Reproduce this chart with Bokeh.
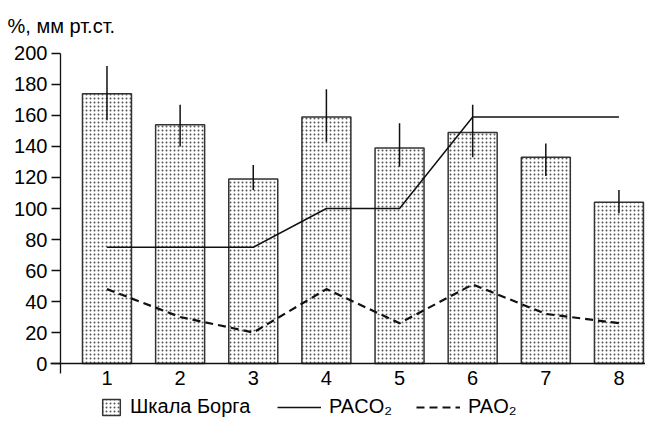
from bokeh.plotting import figure
from bokeh.models import (ColumnDataSource, FixedTicker, Label, Legend, LegendItem,
                          Range1d)
from bokeh.embed import file_html
from bokeh.resources import INLINE

# ---- data ----
categories = [1, 2, 3, 4, 5, 6, 7, 8]
borg = [174, 154, 119, 159, 139, 149, 133, 104]
borg_low = [157, 140, 112, 143, 127, 133, 121, 97]
borg_high = [192, 167, 128, 177, 155, 167, 142, 112]
paco2 = [75, 75, 75, 100, 100, 159, 159, 159]
pao2 = [48, 30, 20, 48, 26, 51, 32, 26]
y_ticks = [0, 20, 40, 60, 80, 100, 120, 140, 160, 180, 200]

FONT = "Liberation Sans"
FS = "20px"

# frame covers whole canvas; axes are placed at fixed locations inside it
p = figure(width=645, height=418, output_backend="svg", toolbar_location=None,
           x_range=Range1d(-0.456, 8.363), y_range=Range1d(-35.48, 234.19),
           min_border_left=0, min_border_right=0, min_border_top=0,
           min_border_bottom=0)
p.outline_line_color = None
p.xgrid.visible = False
p.ygrid.visible = False
p.background_fill_color = "white"
p.border_fill_color = "white"

src = ColumnDataSource(dict(x=categories, top=borg, low=borg_low, high=borg_high,
                            paco2=paco2, pao2=pao2))

bars = p.vbar(x="x", top="top", bottom=0, width=0.67, source=src,
              fill_color="white", line_color="#333333", line_width=1.5,
              hatch_pattern="dot", hatch_scale=4, hatch_color="#555555",
              hatch_weight=1.2)
p.segment(x0="x", y0="low", x1="x", y1="high", source=src,
          line_color="#111111", line_width=1.5)
l1 = p.line(x="x", y="paco2", source=src, line_color="#111111", line_width=1.5)
l2 = p.line(x="x", y="pao2", source=src, line_color="#111111", line_width=2.2,
            line_dash="8 5")

# axes
yax = p.yaxis[0]
yax.fixed_location = 0.364
yax.bounds = (-6.45, 200)
yax.ticker = FixedTicker(ticks=y_ticks)
yax.minor_tick_line_color = None
yax.major_tick_out = 9
yax.major_tick_in = 0
yax.major_label_standoff = 4
yax.axis_line_width = 1.3
yax.major_tick_line_width = 1.3
yax.axis_line_color = "#111111"
yax.major_tick_line_color = "#111111"
yax.major_label_text_font = FONT
yax.major_label_text_font_size = FS
yax.major_label_text_color = "black"

xax = p.xaxis[0]
xax.fixed_location = 0
xax.bounds = (0.2275, 8.363)
xax.ticker = FixedTicker(ticks=categories)
xax.minor_tick_line_color = None
xax.major_tick_out = 0
xax.major_tick_in = 0
xax.major_label_standoff = 7
xax.axis_line_width = 1.3
xax.axis_line_color = "#111111"
xax.major_label_text_font = FONT
xax.major_label_text_font_size = FS
xax.major_label_text_color = "black"

# unit label at top-left
p.add_layout(Label(x=7, y=393, x_units="screen", y_units="screen",
                   text="%, мм рт.ст.", text_font=FONT, text_font_size=FS,
                   text_baseline="middle", text_color="black"))

# legends
def style(lg):
    lg.orientation = "horizontal"
    lg.padding = 0
    lg.margin = 0
    lg.border_line_color = None
    lg.background_fill_alpha = 0
    lg.label_text_font = FONT
    lg.label_text_font_size = FS
    lg.label_text_color = "black"
    lg.label_standoff = 8
    lg.label_height = 20

lgA = Legend(items=[LegendItem(label="Шкала Борга", renderers=[bars])],
             location=(100, 0), glyph_width=22, glyph_height=20)
style(lgA)
lgB = Legend(items=[LegendItem(label="PACO₂", renderers=[l1]),
                    LegendItem(label="PAO₂", renderers=[l2])],
             location=(277, 0), glyph_width=44, glyph_height=20, spacing=24)
style(lgB)
p.add_layout(lgA, "center")
p.add_layout(lgB, "center")

open("out.html", "w").write(file_html(p, INLINE))
